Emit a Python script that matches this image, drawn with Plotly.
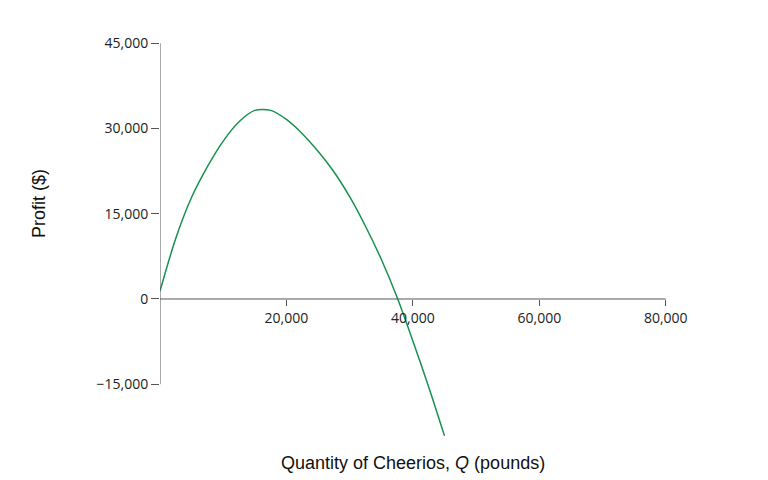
import plotly.graph_objects as go

quantity = [0, 2500, 5000, 7500, 10000, 12500, 15000, 17500, 20000, 22500,
            25000, 27500, 30000, 32500, 35000, 37500, 40000, 42500, 45000]
profit = [1400, 10700, 17900, 23300, 27800, 31200, 33200, 33200, 31600, 29100,
          26000, 22400, 18000, 12800, 7000, 300, -7400, -15500, -24100]

x_ticks = [20000, 40000, 60000, 80000]
y_ticks = [-15000, 0, 15000, 30000, 45000]

fig = go.Figure()
fig.add_trace(go.Scatter(x=quantity, y=profit, mode="lines",
                         line=dict(color="#17914f", width=1.5, shape="spline", smoothing=0.8),
                         showlegend=False))

# axis lines
fig.add_shape(type="line", x0=0, x1=80000, y0=0, y1=0,
              line=dict(color="#555", width=1))
fig.add_shape(type="line", x0=0, x1=0, y0=-15000, y1=45000,
              line=dict(color="#555", width=1))

fig.update_layout(
    width=768, height=480,
    margin=dict(l=152, r=47, t=24, b=47),
    plot_bgcolor="white", paper_bgcolor="white",
    font=dict(family="Open Sans", size=14, color="#222"),
    xaxis=dict(range=[0, 90000], tickvals=x_ticks, tickformat=",d",
               showgrid=False, zeroline=False, showline=False, automargin=False,
               ticks="outside", ticklen=6, tickcolor="#555",
               anchor="free", position=25000 / 72000),
    yaxis=dict(range=[-25000, 47000], tickvals=y_ticks, tickformat=",d",
               showgrid=False, zeroline=False, showline=False, automargin=False,
               ticks="outside", ticklen=8, tickcolor="#555"),
    annotations=[
        dict(text="Quantity of Cheerios, <i>Q</i> (pounds)", xref="paper", yref="paper",
             x=0.445, y=-0.025, yanchor="top", showarrow=False,
             font=dict(family="Liberation Sans", size=18, color="#111")),
        dict(text="Profit ($)", xref="paper", yref="paper", x=-0.235, y=0.58,
             textangle=-90, showarrow=False,
             font=dict(family="Liberation Sans", size=18, color="#111")),
    ],
)

fig.write_html("out.html")
